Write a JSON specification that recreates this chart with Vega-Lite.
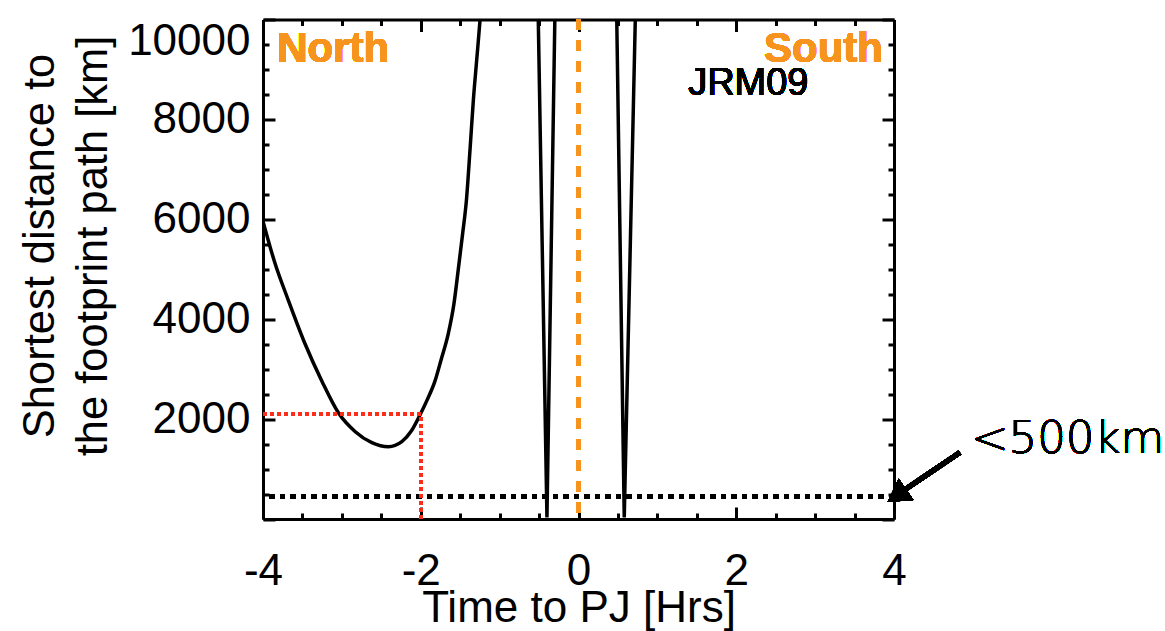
{
  "$schema": "https://vega.github.io/schema/vega-lite/v6.json",
  "width": 631,
  "height": 499.5,
  "autosize": {"type": "none"},
  "padding": {"left": 263, "top": 19.5, "right": 271, "bottom": 112},
  "background": "white",
  "config": {
    "view": {"stroke": null},
    "font": "Liberation Sans",
    "axis": {"grid": false, "labelColor": "black", "titleColor": "black", "domainColor": "black", "tickColor": "black"}
  },
  "data": {
    "values": [
      {"part": "N", "t": -4.0, "d": 5960}, {"part": "N", "t": -3.85, "d": 5130}, {"part": "N", "t": -3.68, "d": 4384}, {"part": "N", "t": -3.47, "d": 3518},
      {"part": "N", "t": -3.25, "d": 2749}, {"part": "N", "t": -3.04, "d": 2116}, {"part": "N", "t": -2.83, "d": 1748}, {"part": "N", "t": -2.62, "d": 1528},
      {"part": "N", "t": -2.41, "d": 1447}, {"part": "N", "t": -2.24, "d": 1548},
      {"part": "N", "t": -2.12, "d": 1760}, {"part": "N", "t": -2.01, "d": 2082}, {"part": "N", "t": -1.92, "d": 2380}, {"part": "N", "t": -1.82, "d": 2760},
      {"part": "N", "t": -1.74, "d": 3200}, {"part": "N", "t": -1.65, "d": 3718}, {"part": "N", "t": -1.58, "d": 4300}, {"part": "N", "t": -1.52, "d": 5051},
      {"part": "N", "t": -1.47, "d": 5700}, {"part": "N", "t": -1.42, "d": 6400}, {"part": "N", "t": -1.375, "d": 7400}, {"part": "N", "t": -1.333, "d": 8388},
      {"part": "N", "t": -1.29, "d": 9200}, {"part": "N", "t": -1.248, "d": 10000}, {"part": "N", "t": -1.1, "d": 14000}, {"part": "N", "t": -0.8, "d": 20000},
      {"part": "V", "t": -0.8, "d": 20000},
      {"part": "V", "t": -0.6, "d": 15000}, {"part": "V", "t": -0.51, "d": 10000}, {"part": "V", "t": -0.4, "d": 30}, {"part": "V", "t": -0.3, "d": 10000},
      {"part": "V", "t": -0.1, "d": 16000}, {"part": "V", "t": 0.2, "d": 18000}, {"part": "V", "t": 0.485, "d": 10000}, {"part": "V", "t": 0.58, "d": 30},
      {"part": "V", "t": 0.72, "d": 10000}, {"part": "V", "t": 1.0, "d": 15000}, {"part": "V", "t": 2.0, "d": 25000}, {"part": "V", "t": 4.0, "d": 40000}
    ]
  },
  "resolve": {"axis": {"x": "independent", "y": "independent"}},
  "layer": [
    {
      "transform": [{"filter": "datum.part === 'N'"}],
      "mark": {"type": "line", "color": "black", "strokeWidth": 3.5, "clip": true, "interpolate": "monotone"},
      "encoding": {
        "x": {
          "field": "t", "type": "quantitative",
          "scale": {"domain": [-4, 4], "nice": false, "zero": false},
          "axis": {
            "orient": "bottom",
            "values": [-4, -3.5, -3, -2.5, -2, -1.5, -1, -0.5, 0, 0.5, 1, 1.5, 2, 2.5, 3, 3.5, 4],
            "labelExpr": "datum.value % 2 === 0 ? toString(datum.value) : ''",
            "tickSize": {"condition": {"test": "datum.value % 2 === 0", "value": -12}, "value": -6},
            "tickWidth": 3, "domainWidth": 3,
            "labelFontSize": 44, "labelPadding": 42.7, "labelFlush": false, "labelOverlap": false,
            "title": "Time to PJ [Hrs]", "titleFontSize": 44, "titleFontWeight": "normal",
            "titleY": 102, "titleBaseline": "alphabetic"
          }
        },
        "y": {
          "field": "d", "type": "quantitative",
          "scale": {"domain": [0, 10000], "nice": false, "zero": false},
          "axis": {
            "orient": "left",
            "values": [0, 500, 1000, 1500, 2000, 2500, 3000, 3500, 4000, 4500, 5000, 5500, 6000, 6500, 7000, 7500, 8000, 8500, 9000, 9500, 10000],
            "labelExpr": "datum.value % 2000 === 0 && datum.value > 0 ? toString(datum.value) : ''",
            "tickSize": {"condition": {"test": "datum.value % 2000 === 0", "value": -12}, "value": -6},
            "tickWidth": 3, "domainWidth": 3,
            "labelFontSize": 44, "labelPadding": 25, "labelFlush": true, "labelOverlap": false,
            "title": ["Shortest distance to", "the footprint path [km]"],
            "titleFontSize": 43.5, "titleFontWeight": "normal", "titleLineHeight": 53,
            "titleX": -209.5, "titleY": 226, "titleBaseline": "alphabetic"
          }
        }
      }
    },
    {
      "transform": [{"filter": "datum.part === 'V'"}],
      "mark": {"type": "line", "color": "black", "strokeWidth": 3.5, "clip": true},
      "encoding": {
        "x": {"field": "t", "type": "quantitative", "axis": null},
        "y": {"field": "d", "type": "quantitative", "axis": null}
      }
    },
    {
      "mark": {"type": "rule", "color": "#F7941D", "strokeWidth": 5, "strokeDash": [10, 11]},
      "encoding": {
        "x": {
          "datum": 0, "type": "quantitative",
          "axis": {
            "orient": "top",
            "values": [-4, -3.5, -3, -2.5, -2, -1.5, -1, -0.5, 0, 0.5, 1, 1.5, 2, 2.5, 3, 3.5, 4],
            "labels": false,
            "tickSize": {"condition": {"test": "datum.value % 2 === 0", "value": -12}, "value": -6},
            "tickWidth": 3, "domainWidth": 3, "title": null
          }
        }
      }
    },
    {
      "mark": {"type": "rule", "color": "black", "strokeWidth": 5, "strokeDash": [5, 5.5]},
      "encoding": {
        "y": {
          "datum": 450, "type": "quantitative",
          "axis": {
            "orient": "right",
            "values": [0, 500, 1000, 1500, 2000, 2500, 3000, 3500, 4000, 4500, 5000, 5500, 6000, 6500, 7000, 7500, 8000, 8500, 9000, 9500, 10000],
            "labels": false,
            "tickSize": {"condition": {"test": "datum.value % 2000 === 0", "value": -12}, "value": -6},
            "tickWidth": 3, "domainWidth": 3, "title": null
          }
        }
      }
    },
    {
      "mark": {"type": "rule", "color": "#FF2D1B", "strokeWidth": 3.5, "strokeDash": [3.5, 3.5]},
      "encoding": {
        "x": {"datum": -4, "type": "quantitative", "axis": null},
        "x2": {"datum": -2},
        "y": {"datum": 2100, "type": "quantitative", "axis": null}
      }
    },
    {
      "mark": {"type": "rule", "color": "#FF2D1B", "strokeWidth": 3.5, "strokeDash": [3.5, 3.5]},
      "encoding": {
        "x": {"datum": -2, "type": "quantitative", "axis": null},
        "y": {"datum": 0, "type": "quantitative", "axis": null},
        "y2": {"datum": 2100}
      }
    },
    {
      "mark": {"type": "text", "text": "North", "color": "#F7941D", "fontSize": 42, "fontWeight": "bold", "align": "left", "baseline": "alphabetic"},
      "encoding": {
        "x": {"datum": -3.82, "type": "quantitative", "axis": null},
        "y": {"datum": 9150, "type": "quantitative", "axis": null}
      }
    },
    {
      "mark": {"type": "text", "text": "South", "color": "#F7941D", "fontSize": 42, "fontWeight": "bold", "align": "right", "baseline": "alphabetic"},
      "encoding": {
        "x": {"datum": 3.86, "type": "quantitative", "axis": null},
        "y": {"datum": 9150, "type": "quantitative", "axis": null}
      }
    },
    {
      "mark": {"type": "text", "text": "JRM09", "color": "black", "fontSize": 38, "align": "left", "baseline": "alphabetic"},
      "encoding": {
        "x": {"datum": 1.39, "type": "quantitative", "axis": null},
        "y": {"datum": 8490, "type": "quantitative", "axis": null}
      }
    },
    {
      "mark": {"type": "text", "text": "<500km", "color": "black", "font": "DejaVu Sans", "fontWeight": 200, "fontSize": 45, "align": "left", "baseline": "alphabetic"},
      "encoding": {
        "x": {"datum": 4.975, "type": "quantitative", "axis": null},
        "y": {"datum": 1321, "type": "quantitative", "axis": null}
      }
    },
    {
      "mark": {"type": "rule", "color": "black", "strokeWidth": 5},
      "encoding": {
        "x": {"datum": 4.835, "type": "quantitative", "axis": null},
        "y": {"datum": 1331, "type": "quantitative", "axis": null},
        "x2": {"datum": 4.15},
        "y2": {"datum": 600}
      }
    },
    {
      "mark": {"type": "point", "shape": "triangle", "filled": true, "color": "black", "opacity": 1, "size": 676, "angle": 235.6, "strokeWidth": 0},
      "encoding": {
        "x": {"datum": 4.075, "type": "quantitative", "axis": null},
        "y": {"datum": 508, "type": "quantitative", "axis": null}
      }
    }
  ]
}
